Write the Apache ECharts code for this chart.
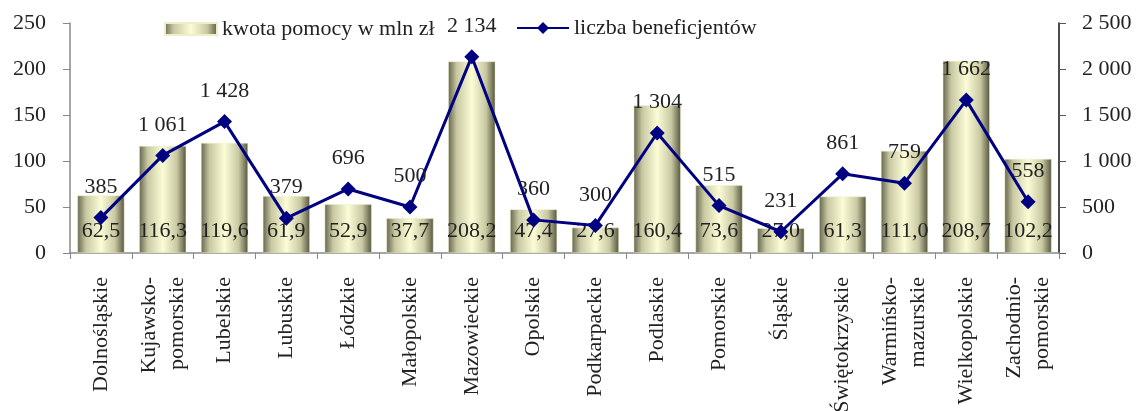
<!DOCTYPE html>
<html>
<head>
<meta charset="utf-8">
<script src="https://cdn.jsdelivr.net/npm/echarts@6/dist/echarts.min.js"></script>
<style>
  html, body { margin: 0; padding: 0; background: #fff; }
  #chart { width: 1137px; height: 411px; }
</style>
</head>
<body>
<div id="chart"></div>
<script>
const categories = ['Dolnośląskie', 'Kujawsko-\npomorskie', 'Lubelskie', 'Lubuskie', 'Łódzkie',
  'Małopolskie', 'Mazowieckie', 'Opolskie', 'Podkarpackie', 'Podlaskie', 'Pomorskie',
  'Śląskie', 'Świętokrzyskie', 'Warmińsko-\nmazurskie', 'Wielkopolskie', 'Zachodnio-\npomorskie']
const kwota = [62.5, 116.3, 119.6, 61.9, 52.9, 37.7, 208.2, 47.4, 27.6, 160.4, 73.6, 27.0, 61.3, 111.0, 208.7, 102.2]
const beneficjenci = [385, 1061, 1428, 379, 696, 500, 2134, 360, 300, 1304, 515, 231, 861, 759, 1662, 558]

const FONT = 'Liberation Serif'
const spaced = v => String(v).replace(/\B(?=(\d{3})+(?!\d))/g, ' ')

const myChart = echarts.init(document.getElementById('chart'))

// cylinder-ish shading of the bars
const barColor = new echarts.graphic.LinearGradient(0, 0, 1, 0, [
  { offset: 0, color: '#66664e' },
  { offset: 0.18, color: '#c8c8a2' },
  { offset: 0.5, color: '#fcfcd6' },
  { offset: 0.8, color: '#c8c8a2' },
  { offset: 1, color: '#56563f' }
])

const legendText = { fontFamily: FONT, fontSize: 22, color: '#222' }

const option = {
  animation: false,
  textStyle: { fontFamily: FONT, color: '#222' },
  legend: [
    {
      top: 13,
      left: 159,
      itemWidth: 52,
      itemHeight: 12,
      textStyle: legendText,
      data: [{ name: 'kwota pomocy w mln zł', icon: 'rect', itemStyle: { color: barColor } }]
    },
    {
      top: 12,
      left: 511,
      itemWidth: 52,
      itemHeight: 15,
      textStyle: legendText,
      data: ['liczba beneficjentów']
    }
  ],
  grid: { left: 70, right: 78, top: 23, bottom: 158, containLabel: false, outerBoundsMode: 'none' },
  xAxis: {
    type: 'category',
    data: categories,
    axisLine: { lineStyle: { color: '#888', width: 1.5 } },
    axisTick: { show: true, length: 6, lineStyle: { color: '#888' } },
    axisLabel: {
      rotate: 90,
      interval: 0,
      margin: 24,
      fontSize: 22,
      lineHeight: 28,
      color: '#222',
      fontFamily: FONT
    }
  },
  yAxis: [
    {
      type: 'value',
      min: 0,
      max: 250,
      interval: 50,
      splitLine: { show: false },
      axisLine: { show: true, lineStyle: { color: '#888', width: 1.5 } },
      axisTick: { show: true, length: 7, lineStyle: { color: '#888' } },
      axisLabel: { fontSize: 22, margin: 24, color: '#222', fontFamily: FONT }
    },
    {
      type: 'value',
      min: 0,
      max: 2500,
      interval: 500,
      splitLine: { show: false },
      axisLine: { show: true, lineStyle: { color: '#111', width: 1.5 } },
      axisTick: { show: true, length: 7, lineStyle: { color: '#555' } },
      axisLabel: { fontSize: 22, margin: 23, color: '#222', fontFamily: FONT, formatter: spaced }
    }
  ],
  series: [
    {
      name: 'kwota pomocy w mln zł',
      type: 'bar',
      yAxisIndex: 0,
      data: kwota,
      barCategoryGap: '24%',
      itemStyle: { color: barColor, borderColor: '#eeeec8', borderWidth: 0.5 },
      label: {
        show: true,
        position: 'insideBottom',
        distance: 11,
        fontSize: 22,
        color: '#222',
        fontFamily: FONT,
        formatter: p => p.value.toFixed(1).replace('.', ',')
      }
    },
    {
      name: 'liczba beneficjentów',
      type: 'line',
      yAxisIndex: 1,
      data: beneficjenci,
      symbol: 'diamond',
      symbolSize: 15,
      lineStyle: { color: '#000080', width: 3 },
      itemStyle: { color: '#000080' },
      label: {
        show: true,
        position: 'top',
        distance: 12,
        fontSize: 22,
        color: '#222',
        fontFamily: FONT,
        formatter: p => spaced(p.value)
      },
      z: 5
    }
  ]
}

myChart.setOption(option)
</script>
</body>
</html>
